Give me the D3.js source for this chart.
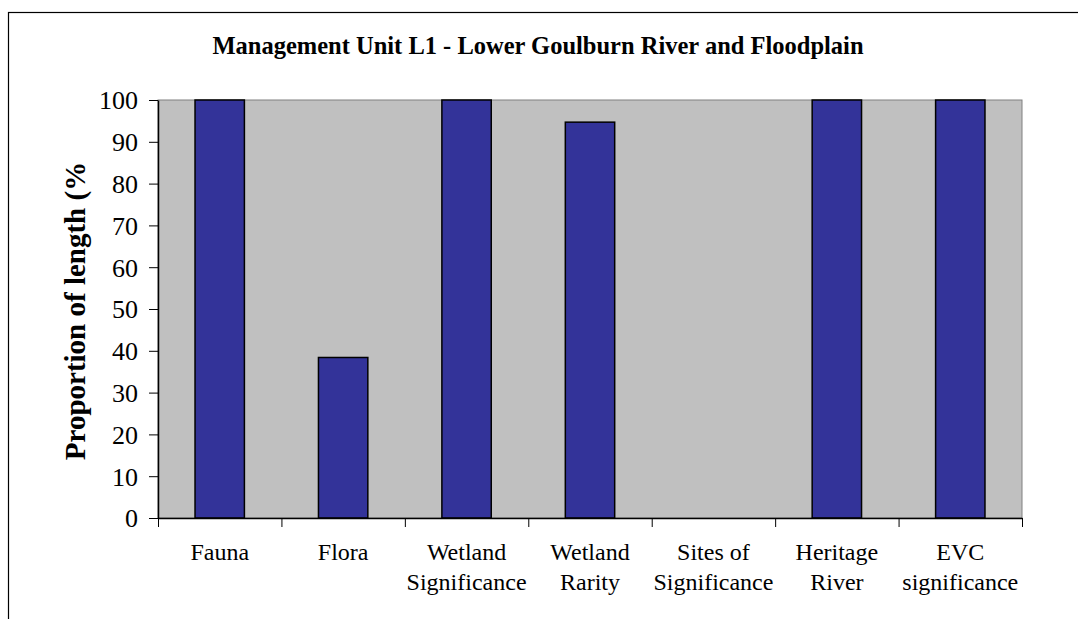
<!DOCTYPE html>
<html>
<head>
<meta charset="utf-8">
<script src="https://cdn.jsdelivr.net/npm/d3@7"></script>
<style>
  body { margin: 0; background: #fff; }
  text { font-family: "Liberation Serif", "Times New Roman", serif; fill: #000; }
</style>
</head>
<body>
<div id="chart"></div>
<script>
// donnees
var categories = ["Fauna", "Flora", "Wetland Significance", "Wetland Rarity", "Sites of Significance", "Heritage River", "EVC significance"];
var labelLines = [["Fauna"], ["Flora"], ["Wetland", "Significance"], ["Wetland", "Rarity"], ["Sites of", "Significance"], ["Heritage", "River"], ["EVC", "significance"]];
var values = [100, 38.4, 100, 94.7, 0, 100, 100];
var yTicks = [0, 10, 20, 30, 40, 50, 60, 70, 80, 90, 100];

var title = "Management Unit L1 - Lower Goulburn River and Floodplain";
var yTitle = "Proportion of length (%";

// dimensions
var W = 1078, H = 619;
var margin = {top: 100, right: 56, bottom: 101, left: 158},
    width = W - margin.left - margin.right,
    height = H - margin.top - margin.bottom;

var svg = d3.select("#chart").append("svg")
    .attr("width", W)
    .attr("height", H);

// cadre exterieur
svg.append("rect")
    .attr("x", 8.5).attr("y", 12.5)
    .attr("width", 1200).attr("height", 800)
    .attr("fill", "none")
    .attr("stroke", "#000")
    .attr("stroke-width", 1.2);

// titre
svg.append("text")
    .attr("x", 538)
    .attr("y", 54)
    .attr("text-anchor", "middle")
    .style("font-size", "24.5px")
    .style("font-weight", "bold")
    .text(title);

var g = svg.append("g")
    .attr("transform", "translate(" + margin.left + "," + margin.top + ")");

var x = d3.scaleBand().domain(categories).range([0, width]).paddingInner(0.6).paddingOuter(0.3);
var xEdge = d3.scaleLinear().domain([0, categories.length]).range([0, width]);
var y = d3.scaleLinear().domain([0, 100]).range([height, 0]);

// zone de trace
g.append("rect")
    .attr("width", width).attr("height", height)
    .attr("fill", "#C0C0C0")
    .attr("stroke", "#808080")
    .attr("stroke-width", 1);

// barres
g.selectAll(".bar")
    .data(values)
    .enter().append("rect")
    .attr("class", "bar")
    .attr("x", function (d, i) { return x(categories[i]); })
    .attr("y", function (d) { return y(d); })
    .attr("width", x.bandwidth())
    .attr("height", function (d) { return height - y(d); })
    .attr("fill", "#333399")
    .attr("stroke", "#000")
    .attr("stroke-width", d => d > 0 ? 1.5 : 0);

// axe Y
var yAxis = g.append("g")
    .call(d3.axisLeft(y).tickValues(yTicks).tickSize(9).tickPadding(11).tickSizeOuter(0));
yAxis.select(".domain").attr("stroke", "#000").attr("stroke-width", 1.5);
yAxis.selectAll(".tick line").attr("stroke", "#000");
yAxis.selectAll("text").style("font-size", "26px").attr("dy", "0.34em");

// axe X (graduations entre categories)
var xAxis = g.append("g")
    .attr("transform", "translate(0," + height + ")")
    .call(d3.axisBottom(xEdge).tickValues(d3.range(categories.length + 1)).tickFormat("").tickSize(9).tickSizeOuter(0));
xAxis.select(".domain").attr("stroke", "#000").attr("stroke-width", 1.5);
xAxis.selectAll(".tick line").attr("stroke", "#000");

// etiquettes X
var lab = g.append("g").selectAll("text")
    .data(labelLines)
    .enter().append("text")
    .attr("text-anchor", "middle")
    .attr("transform", function (d, i) {
        return "translate(" + (x(categories[i]) + x.bandwidth() / 2) + "," + (height + 42) + ")";
    })
    .style("font-size", "24px");
lab.selectAll("tspan")
    .data(function (d) { return d; })
    .enter().append("tspan")
    .attr("x", 0)
    .attr("y", function (d, i) { return i * 30; })
    .text(function (d) { return d; });

// titre axe Y
svg.append("text")
    .attr("transform", "rotate(-90)")
    .attr("x", -311)
    .attr("y", 85)
    .attr("text-anchor", "middle")
    .style("font-size", "29px")
    .style("font-weight", "bold")
    .text(yTitle);
</script>
</body>
</html>
